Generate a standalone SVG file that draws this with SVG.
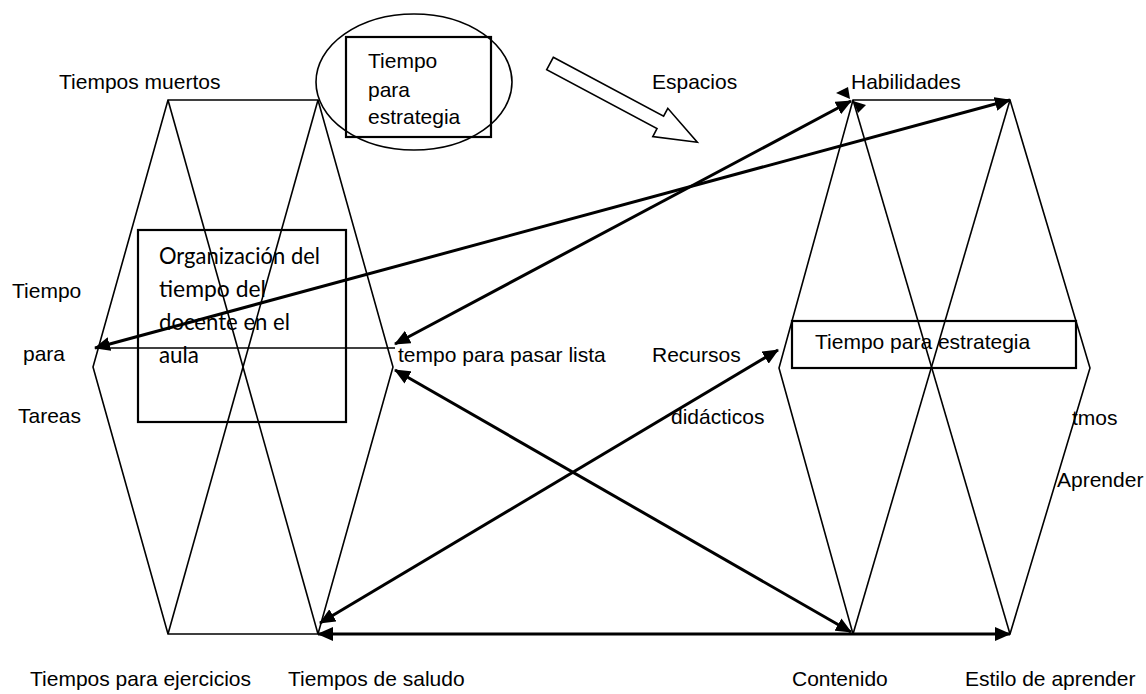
<svg xmlns="http://www.w3.org/2000/svg" width="1146" height="694" viewBox="0 0 1146 694">
<style>
  .t { font-family: "Liberation Sans", Arial, sans-serif; font-size: 21px; fill: #000; }
  .c { font-family: Lato, "Open Sans", sans-serif; font-size: 23px; fill: #000; }
  .thin { fill: none; stroke: #000; stroke-width: 1.6; }
  .box { fill: none; stroke: #000; stroke-width: 2.2; }
  .arr { fill: none; stroke: #000; stroke-width: 3; marker-start: url(#ah); marker-end: url(#ah); }
</style>
<defs>
  <marker id="ah" viewBox="0 0 16 14" refX="15" refY="7" markerWidth="16" markerHeight="14" markerUnits="userSpaceOnUse" orient="auto-start-reverse">
    <path d="M0,0 L16,7 L0,14 z" fill="#000"/>
  </marker>
</defs>
<rect width="1146" height="694" fill="#fff"/>

<g id="left-hexagon">
  <polygon class="thin" points="168,100 318,100 393,367 318,634 168,634 93,367"/>
  <line class="thin" x1="168" y1="100" x2="318" y2="634"/>
  <line class="thin" x1="318" y1="100" x2="168" y2="634"/>
</g>

<g id="right-hexagon">
  <polygon class="thin" points="853,100 1010,100 1090,368 1010,634 853,634 779,368"/>
  <line class="thin" x1="853" y1="100" x2="1010" y2="634"/>
  <line class="thin" x1="1010" y1="100" x2="853" y2="634"/>
</g>

<g id="ellipse-node">
  <ellipse class="thin" cx="414" cy="82" rx="98" ry="68"/>
  <rect class="box" x="346" y="37" width="145" height="100" fill="#fff"/>
  <text class="t" x="368" y="68">Tiempo</text>
  <text class="t" x="368" y="97">para</text>
  <text class="t" x="368" y="124">estrategia</text>
</g>

<g id="organizacion-box">
  <rect class="box" x="138" y="230" width="208" height="192"/>
  <text class="c" x="159" y="264" textLength="161" lengthAdjust="spacingAndGlyphs">Organización del</text>
  <text class="c" x="159" y="297" textLength="107" lengthAdjust="spacingAndGlyphs">tiempo del</text>
  <text class="c" x="159" y="330" textLength="131" lengthAdjust="spacingAndGlyphs">docente en el</text>
  <text class="c" x="159" y="363" textLength="40" lengthAdjust="spacingAndGlyphs">aula</text>
</g>

<g id="estrategia-box">
  <rect class="box" x="792" y="321" width="284" height="47"/>
  <text class="t" x="815" y="349">Tiempo para estrategia</text>
</g>

<g id="block-arrow">
  <polygon fill="#fff" stroke="#000" stroke-width="1.6" points="553.3,57.3 663.6,116.2 667.8,108.3 697.3,142.2 652.8,136.5 657,128.6 546.7,69.7"/>
</g>

<g id="connectors">
  <line class="thin" x1="95" y1="348" x2="395" y2="348"/>
  <line class="arr" x1="95" y1="348" x2="1010" y2="100"/>
  <line class="arr" x1="395" y1="344" x2="851" y2="101"/>
  <line class="arr" x1="320" y1="623" x2="778" y2="350"/>
  <line class="arr" x1="395" y1="370" x2="851" y2="632"/>
  <line class="arr" x1="318" y1="634" x2="1010" y2="634"/>
  <polygon fill="#000" points="836,93 848,87 850,99"/>
  <polygon fill="#000" points="853,101 866,105 858,113"/>
</g>

<g id="labels">
  <text class="t" x="59" y="89">Tiempos muertos</text>
  <text class="t" x="652" y="89">Espacios</text>
  <text class="t" x="851" y="89">Habilidades</text>
  <text class="t" x="12" y="298">Tiempo</text>
  <text class="t" x="23" y="361">para</text>
  <text class="t" x="18" y="423">Tareas</text>
  <text class="t" x="398" y="362">tempo para pasar lista</text>
  <text class="t" x="652" y="362">Recursos</text>
  <text class="t" x="671" y="424">didácticos</text>
  <text class="t" x="1072" y="425">tmos</text>
  <text class="t" x="1057" y="487">Aprender</text>
  <text class="t" x="30" y="686">Tiempos para ejercicios</text>
  <text class="t" x="288" y="686">Tiempos de saludo</text>
  <text class="t" x="792" y="686">Contenido</text>
  <text class="t" x="965" y="686">Estilo de aprender</text>
</g>
</svg>
